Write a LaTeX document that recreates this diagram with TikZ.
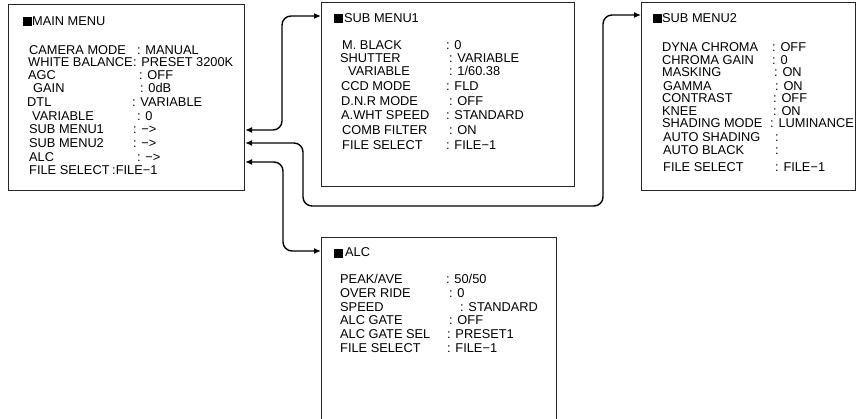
\documentclass[tikz,border=0pt]{standalone}
\usepackage{fontspec}
\setmainfont{Liberation Sans}
\usetikzlibrary{arrows.meta}
\begin{document}
\begin{tikzpicture}[x=1pt,y=-1pt,
  menubox/.style={draw=black!85, line width=1.1pt, inner sep=0pt, anchor=north west},
  txt/.style={anchor=base west, inner sep=0pt, text height=9.2pt, text depth=0pt, font=\fontsize{12.8}{14}\selectfont},
  sq/.style={fill=black, minimum size=9pt, inner sep=0pt, anchor=south west},
  link/.style={line width=1.4pt, rounded corners=9pt, {Latex[length=7pt,width=6pt]}-{Latex[length=7pt,width=6pt]}}]
\useasboundingbox (0,0) rectangle (863,419);
% boxes
\node[menubox, minimum width=236pt, minimum height=186pt] (main) at (8,4) {};
\node[menubox, minimum width=253pt, minimum height=184pt] (sub1) at (321,2) {};
\node[menubox, minimum width=214pt, minimum height=188pt] (sub2) at (641,2) {};
\node[menubox, minimum width=235pt, minimum height=200pt] (alc) at (321,237) {};
% titles
\node[sq] (sqm) at (23,26) {};
\node[txt] (tm) at (32,26) {MAIN MENU};
\node[sq] (sqa) at (334,23) {};
\node[txt] (ta) at (344,23) {SUB MENU1};
\node[sq] (sqb) at (653,23) {};
\node[txt] (tb) at (662,23) {SUB MENU2};
\node[sq] (sqc) at (334,258) {};
\node[txt] (tc) at (345,257) {ALC};
% main menu rows
\node[txt] (m2l) at (28,67) {WHITE BALANCE};
\node[txt] (m2v) at (m2l.base east) {: PRESET 3200K};
\foreach \lx/\cx/\yy/\lab/\val [count=\i] in {
  29/137/55/{CAMERA MODE}/{: MANUAL},
  28/139/80/{AGC}/{: OFF},
  33/140/93/{GAIN}/{: 0dB},
  27/132/107/{DTL}/{: VARIABLE},
  32/137/121/{VARIABLE}/{: 0},
  29/133/134/{SUB MENU1}/{: −>},
  29/133/148/{SUB MENU2}/{: −>},
  29/137/162/{ALC}/{: −>},
  29/112/175/{FILE SELECT}/{:FILE−1}}
{\node[txt] (m\i l) at (\lx,\yy) {\lab};
 \node[txt] (m\i v) at (\cx,\yy) {\val};}
% sub menu 1 rows
\foreach \lx/\cx/\yy/\lab/\val [count=\i] in {
  342/446/50/{M. BLACK}/{: 0},
  340/449/62.5/{SHUTTER}/{: VARIABLE},
  348/449/76/{VARIABLE}/{: 1/60.38},
  341/446/91/{CCD MODE}/{: FLD},
  341/449/106/{D.N.R MODE}/{: OFF},
  341/446/120/{A.WHT SPEED}/{: STANDARD},
  342/449/135/{COMB FILTER}/{: ON},
  342/446/150/{FILE SELECT}/{: FILE−1}}
{\node[txt] (a\i l) at (\lx,\yy) {\lab};
 \node[txt] (a\i v) at (\cx,\yy) {\val};}
% sub menu 2 rows
\foreach \lx/\cx/\yy/\lab/\val [count=\i] in {
  662/772/52/{DYNA CHROMA}/{: OFF},
  662/772/65/{CHROMA GAIN}/{: 0},
  662/774/77/{MASKING}/{: ON},
  663/775/91/{GAMMA}/{: ON},
  662/773/103/{CONTRAST}/{: OFF},
  662/773/116/{KNEE}/{: ON},
  662/770/128/{SHADING MODE}/{: LUMINANCE},
  663/775/142/{AUTO SHADING}/{:},
  663/775/155/{AUTO BLACK}/{:},
  663/775/172/{FILE SELECT}/{: FILE−1}}
{\node[txt] (b\i l) at (\lx,\yy) {\lab};
 \node[txt] (b\i v) at (\cx,\yy) {\val};}
% ALC rows
\foreach \lx/\cx/\yy/\lab/\val [count=\i] in {
  340/446/284/{PEAK/AVE}/{: 50/50},
  340/449/298/{OVER RIDE}/{: 0},
  340/460/312/{SPEED}/{: STANDARD},
  340/449/325/{ALC GATE}/{: OFF},
  340/447/339/{ALC GATE SEL}/{: PRESET1},
  340/447/353/{FILE SELECT}/{: FILE−1}}
{\node[txt] (c\i l) at (\lx,\yy) {\lab};
 \node[txt] (c\i v) at (\cx,\yy) {\val};}
% connectors
\draw[link] (main.east |- 0,130) -| (282,60) |- (sub1.west |- 0,16);
\draw[link] (main.east |- 0,143) -| (303,206) -| (603,60) |- (sub2.west |- 0,15);
\draw[link] (main.east |- 0,162) -| (283,220) |- (alc.west |- 0,251);
\end{tikzpicture}
\end{document}
